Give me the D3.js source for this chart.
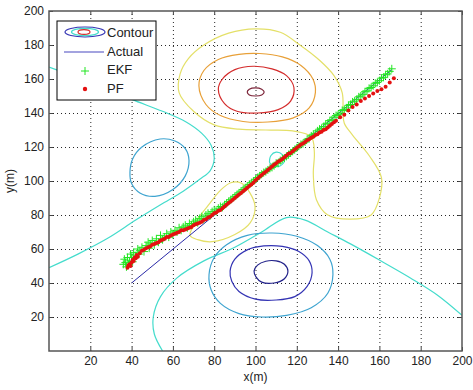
<!DOCTYPE html>
<html>
<head>
<meta charset="utf-8">
<script src="https://cdn.jsdelivr.net/npm/d3@7"></script>
<style>
  body { margin: 0; background: #fff; }
  text { font-family: "Liberation Sans", Arial, sans-serif; }
</style>
</head>
<body>
<svg id="chart" width="473" height="390"></svg>
<script>
// axis ticks
const xTicks = [20, 40, 60, 80, 100, 120, 140, 160, 180, 200];
const yTicks = [20, 40, 60, 80, 100, 120, 140, 160, 180, 200];

// contour lines: [x, y] in metres
const peakInner = [[96,152.3],[97,154],[100,154.8],[103,154],[104.2,152.3],[103,150.6],[100,150],[97,150.6]];
const peakRed = [[82,154],[84,160],[90,165.5],[99,167.5],[108,166],[115,162],[118.6,155],[117,147],[111,142],[101,140],[91,141],[85,145.5]];
const peakOrange = [[72.6,156],[75,165],[82,171.5],[92,174.5],[102,175],[113,173],[122,168],[127.8,160],[129,152],[126,143],[118,137],[106,134.7],[94,135],[83,138.5],[76,145]];
const yellowBig = [[100,189.5],[112,187.5],[121.5,180],[131,171],[138,162],[142,151.8],[142.4,140],[143,134],[147,127],[155,115],[161,102],[160,90],[156,80],[146,77.6],[135,80],[129.5,89],[128,104],[128.5,117],[127,126],[118,129.5],[105,130],[92,130.5],[80,133],[70,141],[63,152],[63.5,163],[67.5,172],[75,180],[87,187]];
const yellowSmall = [[68.3,68],[71.7,77],[77,85.5],[83,94.5],[88,99],[93,98.8],[97.3,93],[99.8,84.7],[97.5,75.5],[90,68.5],[79,64.3],[72,65.5]];
const cyanSmall = [[107,110.5],[107.5,115],[110,117],[113,115.5],[114,111.5],[111,108.5]];
const troughNavy = [[99.3,47],[101,50.5],[105,52.8],[110,53],[114,51],[115.7,47],[114,42.5],[109,40],[103,40.5],[100.3,43.5]];
const troughBlue = [[87.7,47],[90,54],[96,59.5],[104,61.8],[113,61.5],[121,58.5],[126,53],[127.4,46],[125,38],[119,32],[110,30],[100,30.5],[92,35],[88.5,41]];
const troughSteel = [[77.5,45],[80,55],[86,62.5],[96,68],[108,69.4],[120,67.5],[130,62],[136,54],[137.5,45],[135,34],[127,25.5],[115,21],[103,20],[92,22],[83,28],[78.5,36]];
const leftSteel = [[39.2,105],[40.5,113],[45,120],[53.8,124.7],[61,123.5],[66,119],[67.8,112],[66,103],[60,95],[51.3,91],[44,93],[40,98.5]];
const cyanUpper = [[0,167],[20,158],[40,148],[55,141],[66,135],[74,128],[78.5,121],[80,113],[78,106],[73,101],[65,94],[54,86],[42,77],[28,66],[14,57],[0,49]];
const cyanLower = [[55,0],[51,10],[50.5,20],[54,32],[62,43],[75,53],[90,61],[103,70],[115,78.5],[124,77],[135,70],[146,63],[160,53.5],[175,43],[188,33],[200,21]];

// actual track
const actualX = [40, 166];
const actualY = [40, 165.5];

// EKF estimate
const ekfX = [36,36.5,37,37.5,38,38.5,39,39.5,40,40.5,41,42,43,43.5,44,45,46,47,48,48.5,49,50,51,52,53,54,55,56,57,58,59,60,61,62,63,64,65,66,67,68,69,70,71,72,73,74,75,76,77,78,79,80,81,82,83,84,85,86,87,88,89,90,91,92,93,94,95,96,97,98,99,100,101,102,103,104,105,106,107,108,109,110,111,112,113,114,115,116,117,118,119,120,121,122,123,124,125,126,127,128,129,130,131,132,133,134,135,136,137,138,139,140,141,142,143,144,145,146,147,148,149,150,151,152,153,154,155,156,157,158,159,160,161,162,163,164,165,166];
const ekfY = [51,54,52,49.5,55,51,53,57,55,52.5,58,56,60,57,59,61,58.5,62,64,60.5,63,65,62.5,66,64,68,65.5,67,69,67,70,68.5,71,70,72.5,71,73,74,72.5,75,74,76,77,75.5,78,79,77.5,80,81,79.5,82,83,82,84,85,84.5,86,87,88,89,90,91,92,93,94,95,96,97,98,99,100,101,102,103,104,105,105.5,106.5,107.5,108,109,110.5,110.5,112,113,113.5,114.5,115.5,116.5,117.5,118.5,119.5,120.5,121.5,122,123,124.5,125,126.5,127.5,128,129.5,130.5,131,132,133.5,134,135.5,136,137.5,138.5,139,140,141.5,142,143,144.5,145,146.5,147,148,149.5,150,151,152.5,153,154.5,155,156,157.5,158,159,160.5,161,162.5,163,164.5,166];

// PF estimate
const pfX = [38,38.5,39,39.5,40,40.5,41,41.5,42,42.5,43,44,45,46,47,48,49,50,51,52,53,54,55,56,57,58,59,60,61,62,63,64,65,66,67,68,69,70,71,72,73,74,75,76,77,78,79,80,81,82,83,84,85,86,87,88,89,90,91,92,93,94,95,96,97,98,99,100,101,102,103,104,105,106,107,108,109,110,111,112,113,114,115,116,117,118,119,120,121,122,123,124,125,126,127,128,129,130,131,132,133,134,135,136,137,138,139,141,143,145,147,149,151,153,155,157,159,161,163,165,167];
const pfY = [49,50.5,51,50,52,53.5,53,55,54.5,56.5,55.5,
  57.5,59,59.5,60.5,61,61.5,62.5,63,63.5,64,65,65.5,66,67,67,68,68.5,69,69.5,70,71,71,71.5,72,72.5,73,74,74.5,75,75.5,76,77,77.5,78.5,79,80,
  81,81.5,82.5,83,84,85,86,87,88,89,90,91,92,93,94,95,96,97,98,99,100.5,101.5,102.5,103.5,104.5,105.5,106.5,107.5,108.5,109.5,110.5,111.5,112,113,114,115,116,116.5,117.5,118.5,119.5,120.5,121.5,122,123,124,124.5,125.5,126,127,127.5,128.5,129,130,130.5,131.5,132.5,133.5,134.5,135.5,
  137.5,139,141.5,143.5,145,147,148.5,150,151.5,153,154,155.5,158,160.5];

const colors = {
  navy: '#22228a', blue: '#3434b4', steel: '#3ea4d0', cyan: '#44dccc',
  yellow: '#e4e068', orange: '#e8a038', red: '#d42c2c', maroon: '#7c2438'
};

const svg = d3.select('#chart');
const margin = { left: 49, right: 11, top: 11, bottom: 39 };
const W = 473, H = 390;

const x = d3.scaleLinear().domain([0, 200]).range([margin.left, W - margin.right]);
const y = d3.scaleLinear().domain([0, 200]).range([H - margin.bottom, margin.top]);

svg.append('rect').attr('width', W).attr('height', H).attr('fill', '#fff');

svg.append('clipPath').attr('id', 'plot')
  .append('rect')
  .attr('x', x(0)).attr('y', y(200))
  .attr('width', x(200) - x(0)).attr('height', y(0) - y(200));

// grid
const gridH = y(0) - y(200), gridW = x(200) - x(0);
svg.append('g')
  .attr('class', 'grid')
  .attr('transform', `translate(0,${y(0)})`)
  .call(d3.axisBottom(x).tickValues(xTicks.slice(0, -1)).tickSize(-gridH).tickFormat(''));
svg.append('g')
  .attr('class', 'grid')
  .attr('transform', `translate(${x(0)},0)`)
  .call(d3.axisLeft(y).tickValues(yTicks.slice(0, -1)).tickSize(-gridW).tickFormat(''));
svg.selectAll('.grid .domain').remove();
svg.selectAll('.grid line')
  .attr('stroke', '#000')
  .attr('stroke-dasharray', '1,3')
  .attr('opacity', 0.85);

// contours
const plot = svg.append('g').attr('clip-path', 'url(#plot)');
const closed = d3.line().x(d => x(d[0])).y(d => y(d[1])).curve(d3.curveCatmullRomClosed);
const open = d3.line().x(d => x(d[0])).y(d => y(d[1])).curve(d3.curveCatmullRom);

const contours = [
  { pts: cyanUpper, c: colors.cyan, closed: false },
  { pts: cyanLower, c: colors.cyan, closed: false },
  { pts: cyanSmall, c: colors.cyan, closed: true },
  { pts: leftSteel, c: colors.steel, closed: true },
  { pts: troughSteel, c: colors.steel, closed: true },
  { pts: troughBlue, c: colors.blue, closed: true },
  { pts: troughNavy, c: colors.navy, closed: true },
  { pts: yellowBig, c: colors.yellow, closed: true },
  { pts: yellowSmall, c: colors.yellow, closed: true },
  { pts: peakOrange, c: colors.orange, closed: true },
  { pts: peakRed, c: colors.red, closed: true },
  { pts: peakInner, c: colors.maroon, closed: true }
];

plot.selectAll('.contour')
  .data(contours)
  .enter()
  .append('path')
  .attr('class', 'contour')
  .attr('d', d => (d.closed ? closed : open)(d.pts))
  .attr('fill', 'none')
  .attr('stroke', d => d.c)
  .attr('stroke-width', 1.2);

// actual
plot.append('path')
  .attr('d', d3.line().x(d => x(d[0])).y(d => y(d[1]))(d3.zip(actualX, actualY)))
  .attr('stroke', '#2a2aa8')
  .attr('stroke-width', 1)
  .attr('fill', 'none');

// EKF crosses
plot.selectAll('.ekf')
  .data(d3.zip(ekfX, ekfY))
  .enter()
  .append('path')
  .attr('class', 'ekf')
  .attr('transform', d => `translate(${x(d[0])},${y(d[1])})`)
  .attr('d', 'M-4,0H4M0,-4V4')
  .attr('stroke', '#22e622')
  .attr('stroke-width', 1);

// PF dots
plot.selectAll('.pf')
  .data(d3.zip(pfX, pfY))
  .enter()
  .append('circle')
  .attr('class', 'pf')
  .attr('cx', d => x(d[0]))
  .attr('cy', d => y(d[1]))
  .attr('r', 2)
  .attr('fill', '#e41010');

// axes
const tickStyle = g => {
  g.select('.domain').remove();
  g.selectAll('line').attr('stroke', '#444');
  g.selectAll('text').attr('fill', '#222').style('font-size', '12px')
    .style('font-family', '"Liberation Sans", Arial, sans-serif');
};
svg.append('g').attr('transform', `translate(0,${y(0)})`)
  .call(d3.axisBottom(x).tickValues(xTicks).tickSize(-4).tickPadding(5)).call(tickStyle);
svg.append('g').attr('transform', `translate(0,${y(200)})`)
  .call(d3.axisTop(x).tickValues(xTicks).tickSize(-4).tickFormat('')).call(tickStyle);
svg.append('g').attr('transform', `translate(${x(0)},0)`)
  .call(d3.axisLeft(y).tickValues(yTicks).tickSize(-4).tickPadding(5)).call(tickStyle);
svg.append('g').attr('transform', `translate(${x(200)},0)`)
  .call(d3.axisRight(y).tickValues(yTicks).tickSize(-4).tickFormat('')).call(tickStyle);

svg.append('rect')
  .attr('x', x(0)).attr('y', y(200))
  .attr('width', gridW).attr('height', gridH)
  .attr('fill', 'none')
  .attr('stroke', '#555')
  .attr('stroke-width', 1.5);

svg.append('text')
  .attr('x', (x(0) + x(200)) / 2)
  .attr('y', 381)
  .attr('text-anchor', 'middle')
  .attr('fill', '#222')
  .style('font-size', '12px')
  .text('x(m)');

svg.append('text')
  .attr('transform', `translate(14,${(y(0) + y(200)) / 2}) rotate(-90)`)
  .attr('text-anchor', 'middle')
  .attr('fill', '#222')
  .style('font-size', '12px')
  .text('y(m)');

// legend
const legend = svg.append('g').attr('transform', 'translate(57,21)');
legend.append('rect')
  .attr('width', 99).attr('height', 79)
  .attr('fill', '#fff')
  .attr('stroke', '#000')
  .attr('stroke-width', 1);

legend.append('ellipse').attr('cx', 28).attr('cy', 11).attr('rx', 20).attr('ry', 5)
  .attr('fill', 'none').attr('stroke', colors.blue).attr('stroke-width', 1.2);
legend.append('ellipse').attr('cx', 28).attr('cy', 11).attr('rx', 13.5).attr('ry', 3.6)
  .attr('fill', 'none').attr('stroke', colors.cyan).attr('stroke-width', 1.2);
legend.append('ellipse').attr('cx', 27).attr('cy', 11).attr('rx', 6).attr('ry', 2.4)
  .attr('fill', 'none').attr('stroke', colors.red).attr('stroke-width', 1.2);

legend.append('line').attr('x1', 7).attr('x2', 47).attr('y1', 31).attr('y2', 31)
  .attr('stroke', '#4848c0').attr('stroke-width', 1.2);
legend.append('path').attr('transform', 'translate(28,50)').attr('d', 'M-4,0H4M0,-4V4')
  .attr('stroke', '#22e622').attr('stroke-width', 1);
legend.append('circle').attr('cx', 28).attr('cy', 68).attr('r', 2.2).attr('fill', '#e41010');

const labels = ['Contour', 'Actual', 'EKF', 'PF'];
legend.selectAll('.lbl')
  .data(labels)
  .enter()
  .append('text')
  .attr('class', 'lbl')
  .attr('x', 50)
  .attr('y', (d, i) => 16 + i * 18.7)
  .attr('fill', '#222')
  .style('font-size', '13px')
  .text(d => d);
</script>
</body>
</html>
